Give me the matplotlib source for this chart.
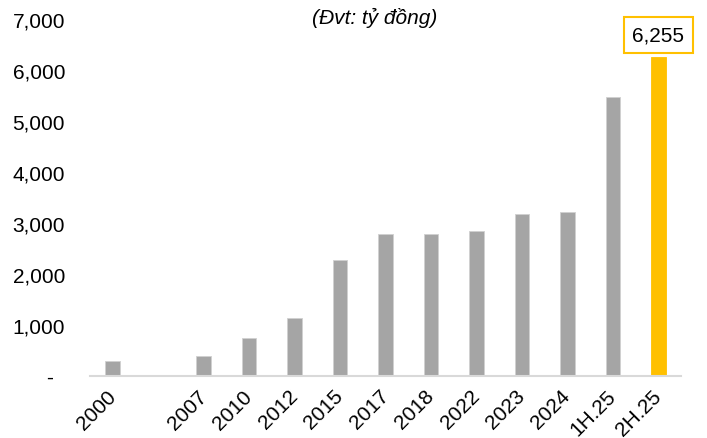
import numpy as np
import matplotlib.pyplot as plt
from matplotlib.ticker import FuncFormatter

plt.rcParams['font.family'] = ['Liberation Sans', 'DejaVu Sans']

# Data (ty dong); blank slot between 2000 and 2007
periods = ["2000", "", "2007", "2010", "2012", "2015", "2017", "2018",
           "2022", "2023", "2024", "1H.25", "2H.25"]
values = [300, np.nan, 400, 750, 1130, 2280, 2790, 2790,
          2840, 3180, 3210, 5470, 6255]
highlight = "2H.25"

grey = "#A5A5A5"
gold = "#FFC000"

fig = plt.figure(figsize=(7.07, 4.39), dpi=100)
ax = fig.add_axes([90/707, 62/439, 591/707, 357/439])

x = np.arange(len(periods))
colors = [gold if p == highlight else grey for p in periods]
bars = ax.bar(x, values, width=0.32, color=colors, edgecolor="#D0D0D0",
              linewidth=0.6)
bars[-1].set_edgecolor(gold)

ax.set_xlim(-0.5, len(periods) - 0.5)
ax.set_ylim(0, 7000)
ax.set_yticks(np.arange(0, 7001, 1000))
ax.yaxis.set_major_formatter(FuncFormatter(
    lambda v, pos: "-  " if v == 0 else f"{v:,.0f}"))

ax.set_xticks(x)
ax.set_xticklabels(periods, rotation=45, ha="right", va="center",
                   rotation_mode="anchor")

for s in ["top", "right", "left"]:
    ax.spines[s].set_visible(False)
ax.spines["bottom"].set_color("#D9D9D9")
ax.spines["bottom"].set_linewidth(1.5)
ax.tick_params(axis="both", length=0, labelsize=15)
ax.tick_params(axis="y", pad=18)
ax.tick_params(axis="x", pad=12)

# value label on the last bar
i = periods.index(highlight)
ax.annotate(f"{values[i]:,.0f}", xy=(x[i], values[i]), xytext=(0, 16),
            textcoords="offset points", ha="center", va="center",
            fontsize=15,
            bbox=dict(boxstyle="square,pad=0.42", fc="white", ec=gold, lw=1.5))

fig.text(375/707, 1 - 18/439, "(Đvt: tỷ đồng)", ha="center", va="center",
         fontsize=15, style="italic")

fig.savefig("out.png", dpi=100)
